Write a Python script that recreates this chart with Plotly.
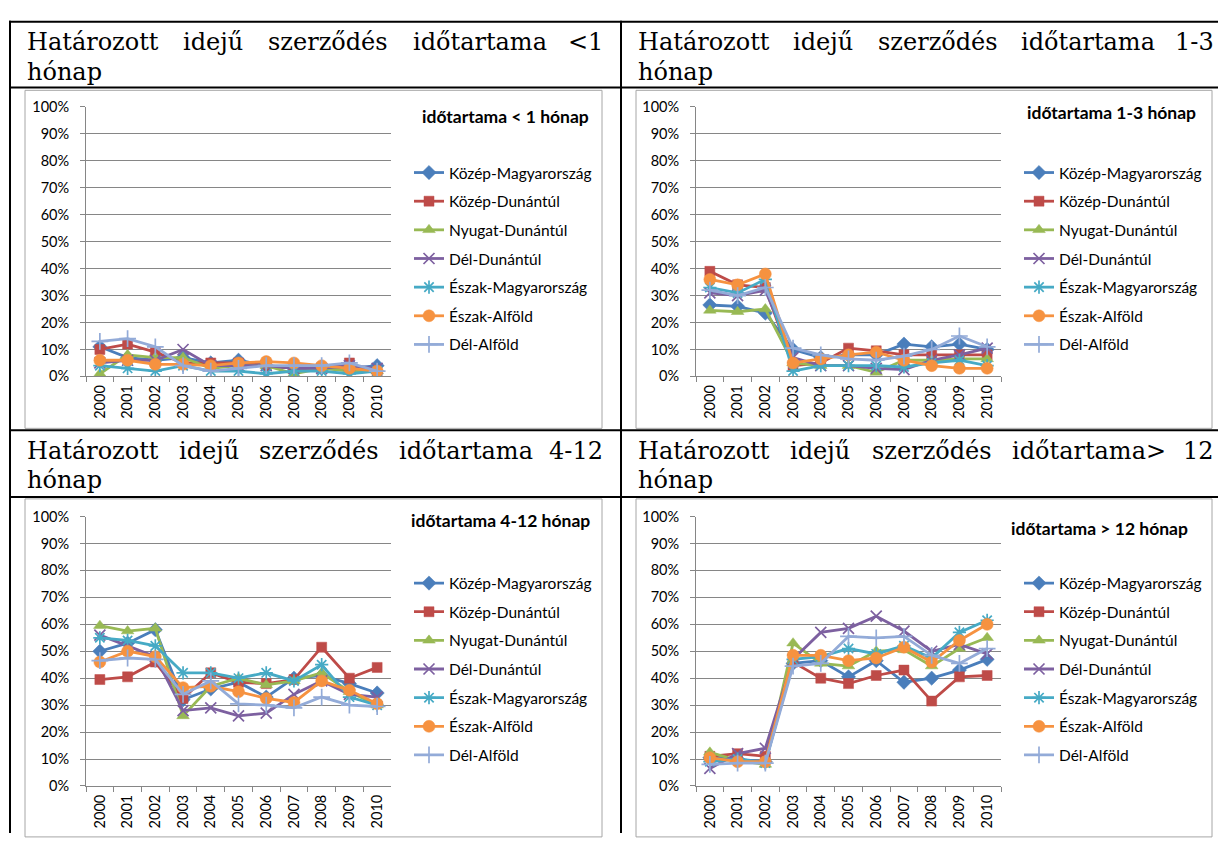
import plotly.graph_objects as go

# --- data -----------------------------------------------------------------
years = ["2000", "2001", "2002", "2003", "2004", "2005",
         "2006", "2007", "2008", "2009", "2010"]

regions = ["Közép-Magyarország", "Közép-Dunántúl", "Nyugat-Dunántúl",
           "Dél-Dunántúl", "Észak-Magyarország", "Észak-Alföld", "Dél-Alföld"]

# share (%) of fixed-term contracts, duration < 1 month
under_1 = [
    [11, 7, 6, 7, 5, 6, 4, 3, 3, 3, 4],
    [10, 12, 9, 5, 5, 5, 4, 3, 3, 5, 1],
    [1, 8, 7, 7, 3, 4, 4, 1, 3, 2, 2],
    [5, 6, 6, 10, 4, 4, 4, 3, 3, 4, 3],
    [4, 3, 2, 4, 2, 2, 1, 2, 2, 1, 2],
    [6, 6, 4.5, 4.5, 4, 5, 5.5, 5, 4, 3, 2],
    [13, 14, 11, 4, 2, 3, 4, 4, 4, 5, 2],
]

# duration 1-3 months
m1_3 = [
    [26.5, 26, 23.5, 10, 7, 8, 8, 12, 11, 12, 10],
    [39, 34, 33, 4, 5, 10.5, 9.5, 8, 8, 8, 8],
    [24.5, 24, 25, 5, 4, 4, 1.5, 6, 6, 6.5, 6.5],
    [31, 30, 32, 7, 4, 4, 3, 2.5, 6, 8, 10.5],
    [33, 31, 36, 2, 4, 4, 4, 3.5, 5, 6, 4],
    [36, 34, 38, 5, 6.5, 8, 9, 6, 4, 3, 3],
    [32, 30, 33, 10.5, 8, 6.5, 6, 7.5, 10, 15, 11],
]

# duration 4-12 months
m4_12 = [
    [50, 53, 58, 32, 36, 38.5, 33, 40, 41, 38, 34.5],
    [39.5, 40.5, 46, 32.5, 42, 38.5, 38, 39.5, 51.5, 40, 44],
    [59.5, 57.5, 58.5, 26, 37, 40, 37.5, 39, 42, 35, 30],
    [56, 52, 48, 28, 29, 26, 27, 34, 39, 34, 33],
    [55, 54, 52, 42, 42, 40, 42, 39, 45, 33, 30],
    [46, 50, 48, 36.5, 37, 35, 32.5, 31, 39, 35.5, 30.5],
    [46.5, 47.5, 47, 34, 39, 30.5, 30, 29, 33, 30, 29.5],
]

# duration > 12 months
over_12 = [
    [10.5, 10, 9, 45.5, 46.5, 40.5, 46.5, 38.5, 40, 43, 47],
    [11, 12, 11, 46, 40, 38, 41, 43, 31.5, 40.5, 41],
    [12.5, 9.5, 8, 53, 45.5, 44.5, 50, 50.5, 44.5, 51, 55],
    [6.5, 12, 14, 47, 57, 58.5, 63, 57.5, 50, 52.5, 49],
    [9, 10, 8.5, 47, 48, 51, 49, 52, 47.5, 57, 61.5],
    [10.5, 9, 9, 48.5, 48.5, 46.5, 47.5, 51.5, 46, 54, 60],
    [8, 8.5, 8.5, 44.5, 45.5, 55.5, 55, 55.5, 48.5, 45.5, 51],
]

panel_titles = ["időtartama < 1 hónap", "időtartama 1-3 hónap",
                "időtartama 4-12 hónap", "időtartama > 12 hónap"]

header_words = [
    ["Határozott", "idejű", "szerződés", "időtartama", "<1"],
    ["Határozott", "idejű", "szerződés", "időtartama", "1-3"],
    ["Határozott", "idejű", "szerződés", "időtartama", "4-12"],
    ["Határozott", "idejű", "szerződés", "időtartama>", "12"],
]
header_second_line = "hónap"

# --- styling --------------------------------------------------------------
W, H = 1218, 841


def px(x):
    return x / W


def py(y):
    return 1 - y / H


colors = ["#4A7EBB", "#BE4B48", "#98B954", "#7D60A0",
          "#46AAC5", "#F69240", "#93ABD8"]
symbols = ["diamond", "square", "triangle-up", "x-thin",
           "asterisk", "circle", "cross-thin"]
msizes = [11, 10, 11, 11, 11, 12, 12]
line_only = {"x-thin", "asterisk", "cross-thin"}

SANS = "Lato, 'Open Sans', sans-serif"
SERIF = "'DejaVu Serif', 'Liberation Serif', serif"
HEAD_SIZE = 24

# panel geometry: plot-area (left, right, top, bottom) in pixels
panels = [
    dict(x0=86, x1=391, top=100, bottom=375),
    dict(x0=696, x1=1001, top=100, bottom=375),
    dict(x0=86, x1=391, top=518, bottom=793),
    dict(x0=696, x1=1001, top=518, bottom=793),
]
# legend anchor (left, top) and title centre in pixels
legend_pos = [(409, 150), (1019, 150), (409, 569), (1019, 569)]
title_pos = [(505, 110), (1111, 106), (500, 522), (1099, 530)]
# chart frames
frames = [(25, 83, 602, 428), (636, 83, 1212, 428),
          (25, 500, 602, 845), (636, 500, 1212, 845)]
# header word positions (left edges; last word right-aligned), justified
header_x = [
    [25, 181, 266, 411, 605],
    [636, 791, 876, 1019, 1216],
    [25, 177, 257, 397, 605],
    [636, 788, 870, 1010, 1216],
]
header_y = [(34, 64), (451, 481)]

datasets = [under_1, m1_3, m4_12, over_12]

fig = go.Figure()

for p, data in enumerate(datasets):
    ax = "" if p == 0 else str(p + 1)
    lg = "legend" if p == 0 else f"legend{p + 1}"
    for i, name in enumerate(regions):
        sym = symbols[i]
        marker = dict(symbol=sym, size=msizes[i], color=colors[i])
        if sym in line_only:
            marker["line"] = dict(color=colors[i], width=1.7)
        else:
            marker["line"] = dict(color=colors[i], width=0.5)
        fig.add_trace(go.Scatter(
            x=years, y=[v / 100 for v in data[i]],
            name=name, mode="lines+markers",
            line=dict(color=colors[i], width=2.8),
            marker=marker,
            xaxis="x" + ax, yaxis="y" + ax,
            legend=lg, legendgroup=f"{p}-{i}",
        ))

layout = dict(
    width=W, height=H,
    margin=dict(l=0, r=0, t=0, b=0),
    paper_bgcolor="white", plot_bgcolor="white",
    showlegend=True,
    font=dict(family=SANS, color="#000"),
)

axis_grey = "#868686"
for p, g in enumerate(panels):
    ax = "" if p == 0 else str(p + 1)
    layout["xaxis" + ax] = dict(
        domain=[px(g["x0"]), px(g["x1"])],
        anchor="y" + ax,
        type="category", categoryorder="array", categoryarray=years,
        range=[-0.5, 10.5],
        tickson="boundaries", ticks="outside", ticklen=5,
        tickcolor=axis_grey, showline=True, linecolor=axis_grey,
        linewidth=1, showgrid=False, tickangle=-90,
        ticklabelstandoff=2,
        tickfont=dict(family=SANS, size=14.5, color="#000"),
        fixedrange=True,
    )
    layout["yaxis" + ax] = dict(
        domain=[py(g["bottom"]), py(g["top"])],
        anchor="x" + ax,
        range=[0, 1], dtick=0.1, tickformat=".0%",
        ticks="outside", ticklen=5, tickcolor=axis_grey,
        showline=True, linecolor=axis_grey, linewidth=1,
        showgrid=True, gridcolor=axis_grey, gridwidth=1,
        zeroline=False, ticklabelstandoff=8,
        tickfont=dict(family=SANS, size=14.5, color="#000"),
        fixedrange=True,
    )
    lx, ly = legend_pos[p]
    layout["legend" if p == 0 else f"legend{p + 1}"] = dict(
        x=px(lx), y=py(ly), xanchor="left", yanchor="top",
        bgcolor="rgba(0,0,0,0)", borderwidth=0,
        font=dict(family=SANS, size=15.5, color="#000"),
        tracegroupgap=5.5, itemwidth=30, traceorder="grouped",
    )

shapes = []
# chart frames
for (x0, y0, x1, y1) in frames:
    shapes.append(dict(type="rect", xref="paper", yref="paper",
                       x0=px(x0), x1=px(x1), y0=py(y1), y1=py(y0),
                       line=dict(color="#a6a6a6", width=1),
                       fillcolor="rgba(0,0,0,0)", layer="below"))
# table rules
for yl in (13, 80, 430, 498):
    shapes.append(dict(type="line", xref="paper", yref="paper",
                       x0=px(9), x1=1, y0=py(yl), y1=py(yl),
                       line=dict(color="#000", width=2)))
for xl in (10, 621):
    shapes.append(dict(type="line", xref="paper", yref="paper",
                       x0=px(xl), x1=px(xl), y0=0, y1=py(12),
                       line=dict(color="#000", width=2)))
layout["shapes"] = shapes

annotations = []
for p in range(4):
    row = p // 2
    y1, y2 = header_y[row]
    words = header_words[p]
    xs = header_x[p]
    for k, w in enumerate(words):
        last = k == len(words) - 1
        annotations.append(dict(
            x=px(xs[k]), y=py(y1), xref="paper", yref="paper",
            text=w, showarrow=False,
            xanchor="right" if last else "left", yanchor="middle",
            font=dict(family=SERIF, size=HEAD_SIZE, color="#000"),
        ))
    annotations.append(dict(
        x=px(xs[0]), y=py(y2), xref="paper", yref="paper",
        text=header_second_line, showarrow=False,
        xanchor="left", yanchor="middle",
        font=dict(family=SERIF, size=HEAD_SIZE, color="#000"),
    ))
    tx, ty = title_pos[p]
    annotations.append(dict(
        x=px(tx), y=py(ty), xref="paper", yref="paper",
        text="<b>" + panel_titles[p] + "</b>", showarrow=False,
        xanchor="center", yanchor="middle",
        font=dict(family=SANS, size=17.5, color="#000"),
    ))
layout["annotations"] = annotations

fig.update_layout(**layout)
fig.write_html("out.html")
